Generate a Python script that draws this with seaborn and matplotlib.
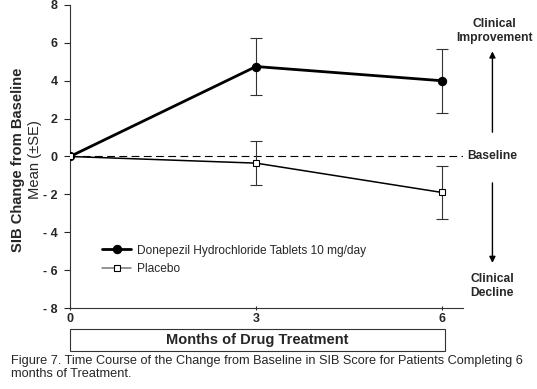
import pandas as pd
import matplotlib.pyplot as plt
import matplotlib.patches as patches
import seaborn as sns

# values
months = [0, 3, 6]
donepezil_mean = [0.0, 4.75, 4.0]
donepezil_se = [0.0, 1.5, 1.7]
placebo_mean = [0.0, -0.35, -1.9]
placebo_se = [0.0, 1.18, 1.4]
yticks = [-8, -6, -4, -2, 0, 2, 4, 6, 8]
ytick_labels = ['- 8', '- 6', '- 4', '- 2', '0', '2', '4', '6', '8']

df = pd.DataFrame({
    'month': months * 2,
    'change': donepezil_mean + placebo_mean,
    'group': ['Donepezil Hydrochloride Tablets 10 mg/day'] * 3 + ['Placebo'] * 3,
})

sns.set_style('ticks')
plt.rcParams['font.family'] = ['Liberation Sans', 'DejaVu Sans']

fig = plt.figure(figsize=(5.37, 3.89), dpi=100)
ax = fig.add_axes([0.1304, 0.2082, 0.732, 0.779])

# baseline
ax.axhline(0, color='black', lw=0.8, dashes=(7, 4), zorder=1)

# error bars
ax.errorbar(months[1:], donepezil_mean[1:], yerr=donepezil_se[1:], fmt='none',
            ecolor='#333333', elinewidth=0.8, capsize=4, capthick=0.8, zorder=2)
ax.errorbar(months[1:], placebo_mean[1:], yerr=placebo_se[1:], fmt='none',
            ecolor='#333333', elinewidth=0.8, capsize=4, capthick=0.8, zorder=2)

sns.lineplot(data=df[df.group != 'Placebo'], x='month', y='change', ax=ax,
             color='black', lw=2, marker='o', markersize=6, markeredgecolor='black',
             label='Donepezil Hydrochloride Tablets 10 mg/day', zorder=3)
sns.lineplot(data=df[df.group == 'Placebo'], x='month', y='change', ax=ax,
             color='black', lw=1.1, marker='s', markersize=5, markerfacecolor='white',
             markeredgecolor='black', markeredgewidth=0.8, label='Placebo', zorder=3)

ax.set_xlim(0, 6.34)
ax.set_ylim(-8, 8)
ax.set_xticks(months)
ax.set_xticklabels([str(m) for m in months], fontweight='bold', fontsize=9)
ax.set_yticks(yticks)
ax.set_yticklabels(ytick_labels, fontweight='bold', fontsize=9)
ax.tick_params(axis='y', length=4, width=0.8, pad=5)
ax.tick_params(axis='x', length=3, width=0.8, pad=2, direction='inout')
ax.set_xlabel('')
ax.set_ylabel('')
sns.despine(ax=ax)
for s in ['left', 'bottom']:
    ax.spines[s].set_linewidth(0.8)
    ax.spines[s].set_color('#333333')

leg = ax.legend(loc='upper left', bbox_to_anchor=(0.055, 0.245), frameon=False,
                fontsize=8.6, handlelength=2.4, handletextpad=0.5, labelspacing=0.55)
leg.get_lines()[1].set_color('#777777')

# y label (two lines)
fig.text(0.034, 0.59, 'SIB Change from Baseline', rotation=90, ha='center', va='center',
         fontsize=10.6, fontweight='bold')
fig.text(0.065, 0.59, 'Mean (\u00b1SE)', rotation=90, ha='center', va='center', fontsize=10.6)

# x label box
box = patches.Rectangle((0, -0.142), 0.954, 0.073, transform=ax.transAxes,
                        fill=False, lw=0.8, edgecolor='#333333', clip_on=False)
ax.add_patch(box)
ax.text(0.477, -0.106, 'Months of Drug Treatment', transform=ax.transAxes,
        ha='center', va='center', fontsize=10.5, fontweight='bold')

# right side annotations
fig.text(0.921, 0.92, 'Clinical\nImprovement', ha='center', va='center',
         fontsize=8.7, fontweight='bold', linespacing=1.2)
fig.text(0.917, 0.598, 'Baseline', ha='center', va='center', fontsize=8.7, fontweight='bold')
fig.text(0.917, 0.265, 'Clinical\nDecline', ha='center', va='center',
         fontsize=8.7, fontweight='bold', linespacing=1.2)
ax.annotate('', xy=(0.917, 0.875), xytext=(0.917, 0.653), xycoords='figure fraction',
            arrowprops=dict(arrowstyle='-|>', color='black', lw=1, mutation_scale=9))
ax.annotate('', xy=(0.917, 0.317), xytext=(0.917, 0.537), xycoords='figure fraction',
            arrowprops=dict(arrowstyle='-|>', color='black', lw=1, mutation_scale=9))

# caption
fig.text(0.02, 0.055, 'Figure 7. Time Course of the Change from Baseline in SIB Score for Patients Completing 6\nmonths of Treatment.',
         ha='left', va='center', fontsize=9.2, linespacing=1.15)

plt.savefig('out.png', dpi=100)
